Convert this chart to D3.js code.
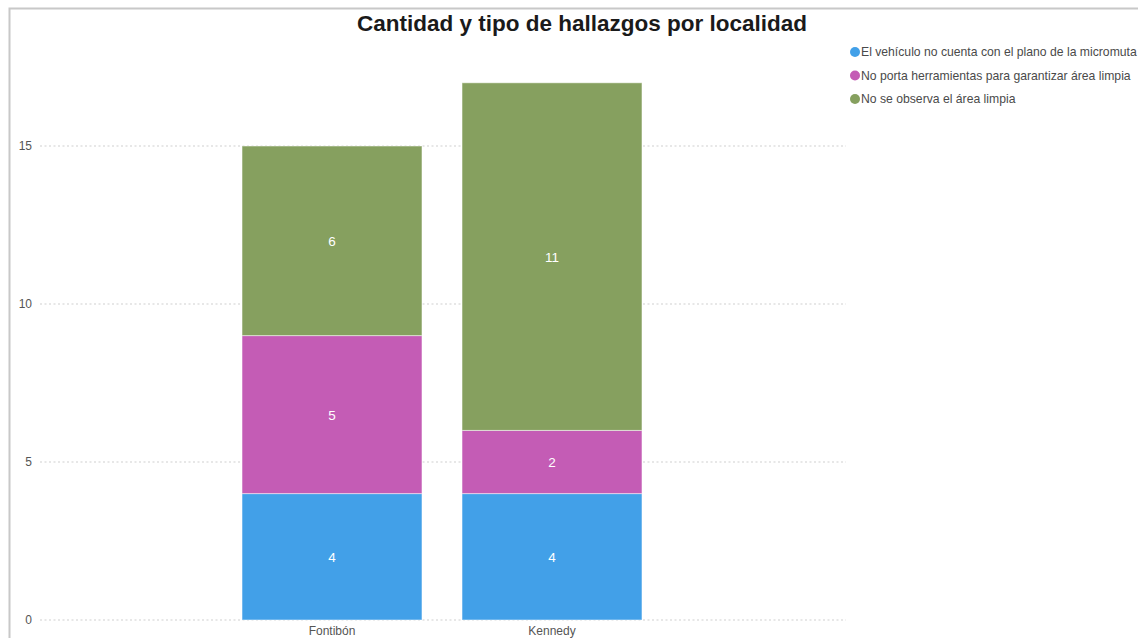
<!DOCTYPE html>
<html>
<head>
<meta charset="utf-8">
<script src="https://cdn.jsdelivr.net/npm/d3@7"></script>
<style>
  body { margin: 0; background: #fff; }
  svg { display: block; font-family: "Liberation Sans", Arial, sans-serif; }
</style>
</head>
<body>
<svg id="chart" width="1138" height="638"></svg>
<script>
// data
var localidades = ["Fontibón", "Kennedy"];
var tipos = [
  "El vehículo no cuenta con el plano de la micromuta",
  "No porta herramientas para garantizar área limpia",
  "No se observa el área limpia"
];
var vehiculoSinPlano = [4, 4];
var sinHerramientas = [5, 2];
var areaNoLimpia = [6, 11];
var colores = ["#42a0e8", "#c45cb5", "#86a05f"];
var yTicks = [0, 5, 10, 15];

var svg = d3.select("#chart");

// outer frame
svg.append("path")
  .attr("d", "M9.5,638 L9.5,8.5 L1138,8.5")
  .attr("fill", "none")
  .attr("stroke", "#c8c8c8")
  .attr("stroke-width", 2);

var y = d3.scaleLinear().domain([0, 17]).range([620, 620 - 17 * 31.6]);
var x = d3.scaleBand().domain(localidades).range([222, 662]).paddingInner(0.182).paddingOuter(0.091);

// rows for the stack
var filas = localidades.map(function(l, i) {
  return {loc: l, a: vehiculoSinPlano[i], b: sinHerramientas[i], c: areaNoLimpia[i]};
});
var series = d3.stack().keys(["a", "b", "c"])(filas);

// grid
var grid = svg.append("g");
grid.selectAll("line").data(yTicks).enter().append("line")
  .attr("x1", 40).attr("x2", 846)
  .attr("y1", function(d) { return y(d); })
  .attr("y2", function(d) { return y(d); })
  .attr("stroke", "#e0e0e0")
  .attr("stroke-width", 1.5)
  .attr("stroke-dasharray", "2,2.5");

// y axis labels
svg.append("g").selectAll("text").data(yTicks).enter().append("text")
  .attr("x", 32).attr("y", function(d) { return y(d) + 4; })
  .attr("text-anchor", "end")
  .attr("font-size", 12)
  .attr("fill", "#555")
  .text(function(d) { return d; });

// bars
var capas = svg.append("g").selectAll("g").data(series).enter().append("g")
  .attr("fill", function(d, i) { return colores[i]; });

capas.selectAll("rect").data(function(d) { return d; }).enter().append("rect")
  .attr("x", function(d) { return x(d.data.loc); })
  .attr("width", x.bandwidth())
  .attr("y", function(d) { return y(d[1]); })
  .attr("height", function(d) { return y(d[0]) - y(d[1]); })
  .attr("stroke", "#fff")
  .attr("stroke-opacity", 0.5)
  .attr("stroke-width", 1);

capas.selectAll("text").data(function(d) { return d; }).enter().append("text")
  .attr("x", function(d) { return x(d.data.loc) + x.bandwidth() / 2; })
  .attr("y", function(d) { return (y(d[0]) + y(d[1])) / 2 + 5; })
  .attr("text-anchor", "middle")
  .attr("font-size", 13.5)
  .attr("fill", "#fff")
  .text(function(d) { return d[1] - d[0]; });

// x labels
svg.append("g").selectAll("text").data(localidades).enter().append("text")
  .attr("x", function(d) { return x(d) + x.bandwidth() / 2; })
  .attr("y", 635)
  .attr("text-anchor", "middle")
  .attr("font-size", 12)
  .attr("fill", "#555")
  .text(function(d) { return d; });

// title
svg.append("text")
  .attr("x", 582).attr("y", 31)
  .attr("text-anchor", "middle")
  .attr("font-size", 22.5)
  .attr("font-weight", "bold")
  .attr("fill", "#1a1a1a")
  .text("Cantidad y tipo de hallazgos por localidad");

// legend
var leg = svg.append("g").selectAll("g").data(tipos).enter().append("g")
  .attr("transform", function(d, i) { return "translate(855," + (52 + i * 23.5) + ")"; });
leg.append("circle").attr("r", 5)
  .attr("fill", function(d, i) { return colores[i]; });
leg.append("text")
  .attr("x", 6).attr("y", 4)
  .attr("font-size", 12.2)
  .attr("fill", "#4a4a4a")
  .text(function(d) { return d; });
</script>
</body>
</html>
